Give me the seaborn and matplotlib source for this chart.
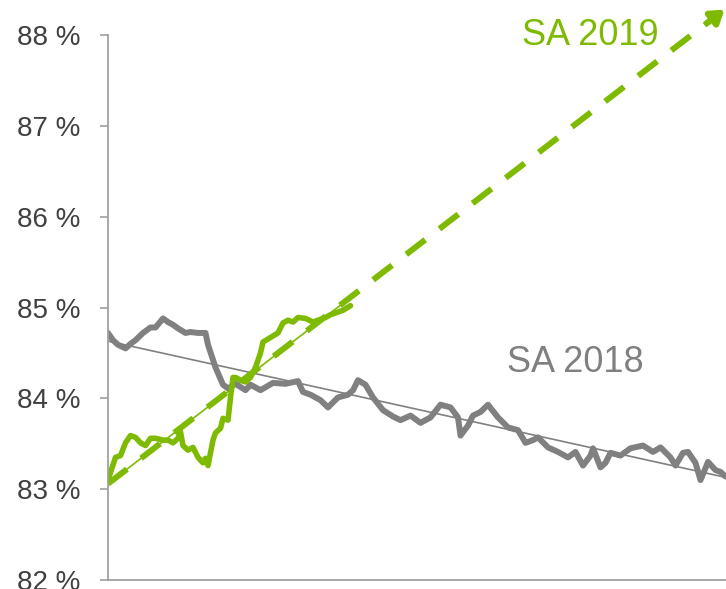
import numpy as np
import pandas as pd
import seaborn as sns
import matplotlib.pyplot as plt

# values (x = trading day, y = percent)
sa2018_day = [0, 2, 4, 7, 9, 11, 14, 17, 19, 22, 24, 26, 28, 31, 33, 36, 39, 40, 43, 46,
              48, 51, 55, 57, 61, 66, 71, 76, 78, 81, 85, 88, 92, 96, 98, 100, 103, 106,
              110, 114, 117, 121, 125, 129, 133, 137, 140, 141, 144, 146, 149, 152, 156,
              160, 164, 167, 170, 172, 176, 180, 184, 187, 190, 193, 194, 197, 199, 201,
              205, 209, 214, 218, 221, 225, 227, 230, 232, 235, 237, 240, 243, 245, 247, 250]
sa2018_val = [84.72, 84.64, 84.59, 84.55, 84.60, 84.64, 84.72, 84.78, 84.78, 84.88, 84.84,
              84.81, 84.77, 84.72, 84.73, 84.72, 84.72, 84.59, 84.34, 84.15, 84.11, 84.16,
              84.09, 84.15, 84.09, 84.17, 84.16, 84.19, 84.07, 84.04, 83.98, 83.90, 84.01,
              84.04, 84.09, 84.20, 84.15, 84.01, 83.87, 83.80, 83.76, 83.81, 83.73, 83.79,
              83.93, 83.90, 83.79, 83.59, 83.70, 83.81, 83.85, 83.93, 83.79, 83.68, 83.65,
              83.51, 83.54, 83.57, 83.46, 83.41, 83.35, 83.41, 83.26, 83.37, 83.45, 83.24,
              83.29, 83.40, 83.37, 83.45, 83.48, 83.41, 83.46, 83.35, 83.26, 83.40, 83.41,
              83.29, 83.10, 83.30, 83.21, 83.19, 83.14, 83.12]

sa2019_day = [0, 3, 5, 7, 9, 11, 13, 15, 17, 19, 22, 24, 26, 28, 29, 30, 32, 34, 36, 38,
              39, 40, 42, 43, 45, 46, 48, 49, 50, 51, 53, 55, 57, 59, 61, 62, 65, 68, 70,
              72, 74, 76, 79, 82, 84, 87, 89, 92, 94, 97]
sa2019_val = [83.10, 83.35, 83.37, 83.51, 83.59, 83.57, 83.51, 83.48, 83.56, 83.56, 83.54,
              83.54, 83.51, 83.56, 83.63, 83.48, 83.43, 83.46, 83.35, 83.29, 83.34, 83.26,
              83.54, 83.62, 83.67, 83.78, 83.76, 84.01, 84.23, 84.23, 84.20, 84.18, 84.23,
              84.34, 84.50, 84.62, 84.67, 84.72, 84.83, 84.86, 84.84, 84.89, 84.88, 84.84,
              84.86, 84.89, 84.92, 84.95, 84.97, 85.02]

# trend lines (start / end)
trend2018_day = [0, 252]
trend2018_val = [84.63, 83.10]
trend2019_day = [0, 97]
trend2019_val = [83.06, 85.11]
proj2019_day = [0, 246.6]
proj2019_val = [83.06, 88.28]

yticks = [82, 83, 84, 85, 86, 87, 88]
ytick_labels = ["82 %", "83 %", "84 %", "85 %", "86 %", "87 %", "88 %"]

GREEN = "#7DBA00"
GREY = "#808080"

sns.set_style("white")
plt.rcParams["font.family"] = ["Liberation Sans", "DejaVu Sans"]

df18 = pd.DataFrame({"day": sa2018_day, "val": sa2018_val})
df19 = pd.DataFrame({"day": sa2019_day, "val": sa2019_val})

fig = plt.figure(figsize=(7.26, 5.89), dpi=100)
ax = fig.add_axes([108 / 726, 9 / 589, 1 - 108 / 726, 580 / 589])

# trend lines
sns.lineplot(x=trend2018_day, y=trend2018_val, ax=ax, color=GREY, lw=1.2)
sns.lineplot(x=trend2019_day, y=trend2019_val, ax=ax, color=GREEN, lw=1.2)

# projection: dashed shaft plus an arrow head at the end
slope = (proj2019_val[1] - proj2019_val[0]) / (proj2019_day[1] - proj2019_day[0])
shaft_end = proj2019_day[1] - 6
sns.lineplot(x=[proj2019_day[0], shaft_end],
             y=[proj2019_val[0], proj2019_val[0] + slope * shaft_end],
             ax=ax, color=GREEN, lw=4.3, linestyle=(0, (4, 3)))
head_start = proj2019_day[1] - 7
ax.annotate("", xy=(proj2019_day[1], proj2019_val[1]),
            xytext=(head_start, proj2019_val[0] + slope * head_start),
            arrowprops=dict(arrowstyle="-|>,head_length=0.75,head_width=0.5",
                            color=GREEN, lw=4.3, shrinkA=0, shrinkB=0),
            annotation_clip=False)

# data series
sns.lineplot(data=df18, x="day", y="val", ax=ax, color=GREY, lw=4.3,
             solid_joinstyle="round", solid_capstyle="round")
sns.lineplot(data=df19, x="day", y="val", ax=ax, color=GREEN, lw=4.0,
             solid_joinstyle="round", solid_capstyle="round")

ax.text(159.6, 84.39, "SA 2018", color=GREY, fontsize=26, va="center", ha="left")
ax.text(165.6, 87.99, "SA 2019", color=GREEN, fontsize=26, va="center", ha="left")

ax.set_xlim(0, 247.2)
ax.set_ylim(82, 88 + 35 / 90.8)
ax.set_xticks([])
ax.set_yticks(yticks)
ax.set_yticklabels(ytick_labels)
ax.set_xlabel("")
ax.set_ylabel("")
ax.tick_params(axis="y", left=True, length=6, width=1.2, color="#A0A0A0",
               pad=14, labelsize=20, labelcolor="#404040")

for s in ["top", "right"]:
    ax.spines[s].set_visible(False)
ax.spines["left"].set_bounds(82, 88)
for s in ["left", "bottom"]:
    ax.spines[s].set_color("#A0A0A0")
    ax.spines[s].set_linewidth(1.3)

fig.savefig("out.png", dpi=100)
